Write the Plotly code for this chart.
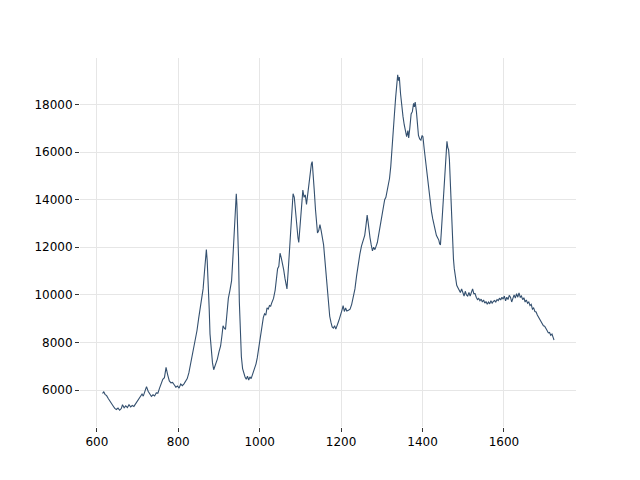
import plotly.graph_objects as go

wavenumber = [
    614, 617, 620, 624, 628, 632, 636, 640, 644, 648, 652, 656, 660, 663, 667, 671, 675, 679, 683, 687,
    691, 695, 699, 703, 707, 711, 714, 718, 722, 726, 730, 734, 738, 742, 746, 750, 754, 758, 762, 766,
    770, 774, 778, 782, 786, 790, 794, 798, 802, 806, 810, 814, 818, 822, 826, 830, 834, 838, 842, 846,
    850, 854, 858, 861, 864, 867, 869, 871, 874, 876, 878, 881, 884, 887, 890, 893, 896, 900, 904, 907,
    910, 913, 916, 919, 923, 927, 931, 934, 937, 940, 942.5, 944, 946, 948, 950, 952, 955, 958, 961, 964,
    967, 970, 973, 976, 979, 982, 985, 988, 991, 994, 997, 1000, 1003, 1006, 1009, 1012, 1015, 1018, 1021, 1024,
    1027, 1030, 1034, 1038, 1041, 1044, 1047, 1050, 1053, 1056, 1059, 1062, 1065, 1067, 1070, 1073, 1076, 1079, 1082, 1085,
    1088, 1091, 1094, 1096, 1099, 1101, 1104, 1106, 1109, 1112, 1115, 1118, 1121, 1124, 1127, 1129, 1131, 1134, 1137, 1140,
    1142, 1145, 1148, 1151, 1154, 1157, 1160, 1163, 1166, 1169, 1172, 1175, 1178, 1181, 1184, 1187, 1190, 1193, 1196, 1199,
    1202, 1205, 1208, 1211, 1214, 1218, 1222, 1226, 1230, 1234, 1238, 1242, 1246, 1250, 1254, 1258, 1261, 1264, 1266, 1268,
    1271, 1274, 1277, 1280, 1283, 1286, 1289, 1292, 1295, 1298, 1301, 1304, 1307, 1310, 1313, 1316, 1319, 1322, 1325, 1328,
    1331, 1334, 1337, 1339, 1341, 1343, 1346, 1349, 1352, 1355, 1358, 1361, 1364, 1366, 1369, 1372, 1375, 1378, 1380, 1382,
    1385, 1388, 1390, 1393, 1396, 1399, 1401, 1404, 1407, 1410, 1413, 1416, 1419, 1422, 1425, 1428, 1431, 1434, 1437, 1440,
    1442, 1444, 1446, 1449, 1452, 1455, 1458, 1460, 1462, 1464, 1466, 1468, 1470, 1472, 1474, 1476, 1478, 1481, 1484, 1487,
    1490, 1493, 1496, 1499, 1502, 1505, 1508, 1511, 1514, 1517, 1520, 1523, 1526, 1529, 1532, 1535, 1538, 1541, 1544, 1547,
    1550, 1553, 1556, 1559, 1562, 1565, 1568, 1571, 1574, 1577, 1580, 1583, 1586, 1589, 1592, 1595, 1598, 1601, 1604, 1607,
    1610, 1613, 1616, 1619, 1622, 1625, 1628, 1631, 1634, 1637, 1640, 1643, 1646, 1649, 1652, 1655, 1658, 1661, 1664, 1667,
    1670, 1673, 1676, 1679, 1682, 1685, 1688, 1691, 1694, 1697, 1700, 1703, 1706, 1709, 1712, 1715, 1718, 1721, 1723,
]

intensity = [
    5850, 5930, 5820, 5760, 5640, 5520, 5420, 5330, 5230, 5180, 5240, 5150, 5220, 5380, 5250, 5330, 5260, 5380, 5290, 5350,
    5310, 5420, 5520, 5620, 5760, 5830, 5740, 5950, 6140, 5950, 5820, 5730, 5800, 5750, 5880, 5870, 6080, 6280, 6450, 6520,
    6950, 6640, 6380, 6300, 6320, 6220, 6120, 6170, 6080, 6250, 6180, 6260, 6380, 6480, 6720, 7050, 7400, 7800, 8150, 8500,
    9000, 9450, 10000, 10250, 10900, 11600, 11900, 11450, 10450, 9400, 8350, 7600, 7150, 6850, 7000, 7080, 7300, 7600, 7850, 8250,
    8700, 8600, 8550, 9100, 9850, 10200, 10600, 11500, 12400, 13500, 14250, 13800, 12800, 11600, 9700, 8300, 7400, 6900, 6700, 6550,
    6450, 6580, 6420, 6550, 6480, 6620, 6750, 6900, 7100, 7350, 7700, 8200, 8550, 8800, 9050, 9200, 9150, 9450, 9400, 9550,
    9520, 9680, 9850, 10200, 10650, 11100, 11200, 11750, 11550, 11350, 11050, 10700, 10400, 10250, 11000, 11800, 12600, 13700, 14250, 14100,
    13500, 12800, 12400, 12200, 12800, 13500, 14000, 14400, 14100, 14200, 13800, 14300, 14700, 15100, 15500, 15600, 15200, 14400, 13600, 12900,
    12600, 12700, 12950, 12700, 12450, 12100, 11500, 10800, 10200, 9400, 9100, 8850, 8650, 8600, 8700, 8560, 8750, 8850, 9000, 9150,
    9350, 9550, 9300, 9450, 9320, 9350, 9400, 9600, 9900, 10250, 10800, 11300, 11700, 12050, 12300, 12500, 12900, 13350, 13100, 12750,
    12400, 12100, 11850, 12000, 11900, 12050, 12200, 12500, 12800, 13000, 13300, 13600, 14000, 14100, 14400, 14600, 14900, 15400, 16300, 17000,
    17600, 18300, 19100, 19250, 19000, 19150, 18450, 17900, 17500, 17150, 16800, 16650, 16900, 16600, 17050, 17600, 17700, 18050, 17900, 18100,
    17700, 17200, 16700, 16550, 16500, 16700, 16650, 16150, 15700, 15200, 14700, 14300, 13900, 13500, 13200, 12950, 12800, 12500, 12400, 12300,
    12150, 12100, 12600, 13500, 14600, 15300, 16000, 16450, 16200, 16100, 15700, 14800, 13800, 12700, 11900, 11500, 11100, 10750, 10400, 10300,
    10200, 10100, 10250, 10050, 9950, 10150, 10000, 9950, 10100, 9950, 10150, 10250, 10050, 10050, 9900, 9800, 9850, 9750, 9820, 9700,
    9780, 9650, 9720, 9600, 9700, 9620, 9750, 9650, 9720, 9760, 9700, 9800, 9760, 9860, 9780, 9900, 9820, 9950, 9750, 9900,
    9800, 9980, 9900, 9700, 9850, 10000, 9860, 10050, 9900, 10080, 9900, 9950, 9800, 9880, 9700, 9780, 9650, 9700, 9550, 9600,
    9400, 9450, 9300, 9280, 9150, 9050, 9000, 8900, 8800, 8700, 8680, 8550, 8500, 8400, 8420, 8300, 8350, 8200, 8100,
]

x_ticks = [600, 800, 1000, 1200, 1400, 1600]
y_ticks = [6000, 8000, 10000, 12000, 14000, 16000, 18000]

fig = go.Figure()
fig.add_trace(go.Scatter(
    x=wavenumber, y=intensity, mode="lines",
    line=dict(color="#34506f", width=1.1),
    showlegend=False,
))

axis_common = dict(
    showgrid=True, gridcolor="#e6e6e6", gridwidth=1,
    zeroline=False, showline=False,
    ticks="outside", ticklen=4, tickwidth=1, tickcolor="#333333",
    tickfont=dict(family="DejaVu Sans", size=12, color="#000000"),
    tickformat="d",
)

fig.update_layout(
    width=640, height=480,
    margin=dict(l=72, r=72, t=50, b=61),
    paper_bgcolor="white", plot_bgcolor="white",
    xaxis=dict(range=[558.6, 1777], tickvals=x_ticks, **axis_common),
    yaxis=dict(range=[4445, 19955], tickvals=y_ticks, **axis_common),
)

fig.write_html("out.html")
